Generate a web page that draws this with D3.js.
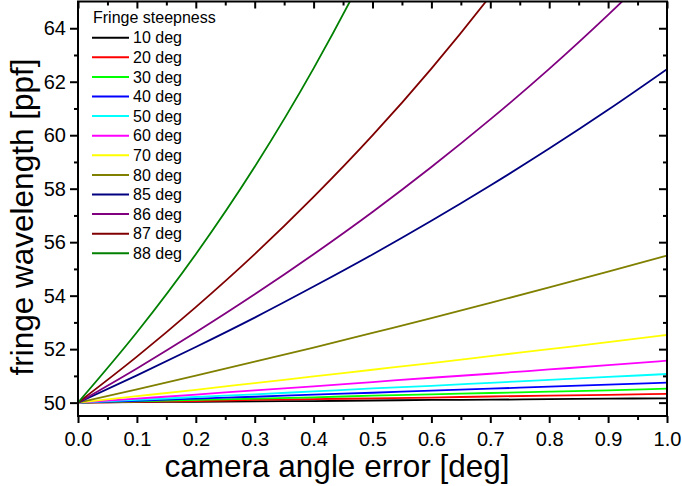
<!DOCTYPE html>
<html>
<head>
<meta charset="utf-8">
<script src="https://d3js.org/d3.v7.min.js"></script>
<style>
  body { margin: 0; background: #fff; }
  svg { display: block; font-family: "Liberation Sans", Arial, sans-serif; }
</style>
</head>
<body>
<svg id="chart"></svg>
<script>
// camera angle error [deg] (x values shared by every series)
var angleError = [0, 0.1, 0.2, 0.3, 0.4, 0.5, 0.6, 0.7, 0.8, 0.9, 1.0];

// fringe wavelength [ppf] for each fringe steepness
var deg10 = [50, 50.02, 50.03, 50.05, 50.06, 50.08, 50.10, 50.11, 50.13, 50.15, 50.16];
var deg20 = [50, 50.03, 50.06, 50.10, 50.13, 50.16, 50.19, 50.23, 50.26, 50.29, 50.33];
var deg30 = [50, 50.05, 50.10, 50.15, 50.20, 50.26, 50.31, 50.36, 50.41, 50.46, 50.52];
var deg40 = [50, 50.07, 50.15, 50.22, 50.30, 50.37, 50.45, 50.52, 50.60, 50.67, 50.75];
var deg50 = [50, 50.10, 50.21, 50.31, 50.42, 50.53, 50.63, 50.74, 50.85, 50.96, 51.07];
var deg60 = [50, 50.15, 50.30, 50.46, 50.61, 50.77, 50.93, 51.08, 51.24, 51.40, 51.57];
var deg70 = [50, 50.24, 50.48, 50.73, 50.98, 51.23, 51.48, 51.74, 52.00, 52.26, 52.53];
var deg80 = [50, 50.50, 51.01, 51.53, 52.06, 52.61, 53.16, 53.73, 54.31, 54.90, 55.50];
var deg85 = [50, 51.02, 52.08, 53.18, 54.34, 55.54, 56.80, 58.12, 59.50, 60.95, 62.47];
var deg86 = [50, 51.28, 52.63, 54.05, 55.55, 57.13, 58.81, 60.59, 62.48, 64.50, 66.64];
var deg87 = [50, 51.72, 53.57, 55.55, 57.69, 59.99, 62.49, 65.21, 68.17, 71.41, 74.98];
var deg88 = [50, 52.63, 55.55, 58.82, 62.50, 66.66, 71.42, 76.92, 83.32, 90.90, 99.99];

var seriesNames = ["10 deg", "20 deg", "30 deg", "40 deg", "50 deg", "60 deg",
                   "70 deg", "80 deg", "85 deg", "86 deg", "87 deg", "88 deg"];
var seriesValues = [deg10, deg20, deg30, deg40, deg50, deg60,
                    deg70, deg80, deg85, deg86, deg87, deg88];
var seriesColors = ["#000000", "#ff0000", "#00ff00", "#0000ff", "#00ffff", "#ff00ff",
                    "#ffff00", "#808000", "#000080", "#800080", "#800000", "#008000"];

var xTicks = [0, 0.1, 0.2, 0.3, 0.4, 0.5, 0.6, 0.7, 0.8, 0.9, 1.0];
var yTicks = [50, 52, 54, 56, 58, 60, 62, 64];

var width = 682, height = 486;
var plot = {left: 78, right: 667, top: 1.5, bottom: 416};

var svg = d3.select("#chart")
    .attr("width", width)
    .attr("height", height);

var x = d3.scaleLinear().domain([0, 1]).range([plot.left, plot.right]);
var y = d3.scaleLinear().domain([49.5, 65]).range([plot.bottom, plot.top]);

var xMinor = d3.range(0.05, 1, 0.1);
var yMinor = d3.range(51, 65, 2);

// clip the curves to the frame
svg.append("clipPath").attr("id", "plotClip")
    .append("rect")
    .attr("x", plot.left).attr("y", plot.top)
    .attr("width", plot.right - plot.left)
    .attr("height", plot.bottom - plot.top);

var data = seriesNames.map(function(name, i) {
    return {
        name: name,
        color: seriesColors[i],
        points: angleError.map(function(a, j) { return [a, seriesValues[i][j]]; })
    };
});

var line = d3.line()
    .x(function(d) { return x(d[0]); })
    .y(function(d) { return y(d[1]); })
    .curve(d3.curveMonotoneX);

svg.append("g")
    .attr("clip-path", "url(#plotClip)")
    .selectAll("path")
    .data(data)
    .enter()
    .append("path")
    .attr("fill", "none")
    .attr("stroke", function(d) { return d.color; })
    .attr("stroke-width", 1.8)
    .attr("d", function(d) { return line(d.points); });

// axes: outward ticks on bottom/left, inward mirror ticks on top/right
function styleAxis(g, fontSize) {
    g.select(".domain").remove();
    g.selectAll(".tick line").attr("stroke", "#000").attr("stroke-width", 2);
    g.selectAll(".tick text")
        .attr("fill", "#000")
        .style("font-size", fontSize + "px")
        .style("font-family", "'Liberation Sans', Arial, sans-serif");
}

svg.append("g")
    .attr("transform", "translate(0," + plot.bottom + ")")
    .call(d3.axisBottom(x).tickValues(xTicks).tickFormat(d3.format(".1f")).tickSize(7).tickPadding(9))
    .call(styleAxis, 20);
svg.append("g")
    .attr("transform", "translate(0," + plot.bottom + ")")
    .call(d3.axisBottom(x).tickValues(xMinor).tickFormat("").tickSize(4))
    .call(styleAxis, 20);

svg.append("g")
    .attr("transform", "translate(" + plot.left + ",0)")
    .call(d3.axisLeft(y).tickValues(yTicks).tickSize(8).tickPadding(4))
    .call(styleAxis, 20);
svg.append("g")
    .attr("transform", "translate(" + plot.left + ",0)")
    .call(d3.axisLeft(y).tickValues(yMinor).tickFormat("").tickSize(4))
    .call(styleAxis, 20);

svg.append("g")
    .attr("transform", "translate(0," + plot.top + ")")
    .call(d3.axisTop(x).tickValues(xTicks).tickFormat("").tickSize(-7))
    .call(styleAxis, 20);
svg.append("g")
    .attr("transform", "translate(0," + plot.top + ")")
    .call(d3.axisTop(x).tickValues(xMinor).tickFormat("").tickSize(-4))
    .call(styleAxis, 20);

svg.append("g")
    .attr("transform", "translate(" + plot.right + ",0)")
    .call(d3.axisRight(y).tickValues(yTicks).tickFormat("").tickSize(-8))
    .call(styleAxis, 20);
svg.append("g")
    .attr("transform", "translate(" + plot.right + ",0)")
    .call(d3.axisRight(y).tickValues(yMinor).tickFormat("").tickSize(-4))
    .call(styleAxis, 20);

// frame
svg.append("rect")
    .attr("x", plot.left).attr("y", plot.top)
    .attr("width", plot.right - plot.left)
    .attr("height", plot.bottom - plot.top)
    .attr("fill", "none")
    .attr("stroke", "#000")
    .attr("stroke-width", 2);

// axis titles
svg.append("text")
    .attr("x", 337)
    .attr("y", 477)
    .attr("text-anchor", "middle")
    .style("font-size", "31.5px")
    .text("camera angle error [deg]");

svg.append("text")
    .attr("transform", "translate(33,217) rotate(-90)")
    .attr("text-anchor", "middle")
    .style("font-size", "31.5px")
    .text("fringe wavelength [ppf]");

// legend
var legend = svg.append("g").attr("transform", "translate(92,0)");
legend.append("text")
    .attr("x", 1)
    .attr("y", 23)
    .style("font-size", "16px")
    .text("Fringe steepness");

var items = legend.selectAll("g.item")
    .data(data)
    .enter()
    .append("g")
    .attr("class", "item")
    .attr("transform", function(d, i) { return "translate(0," + (37.7 + i * 19.6) + ")"; });
items.append("line")
    .attr("x1", 0).attr("x2", 37)
    .attr("stroke", function(d) { return d.color; })
    .attr("stroke-width", 2);
items.append("text")
    .attr("x", 41)
    .attr("dy", "0.36em")
    .style("font-size", "16px")
    .text(function(d) { return d.name; });
</script>
</body>
</html>
